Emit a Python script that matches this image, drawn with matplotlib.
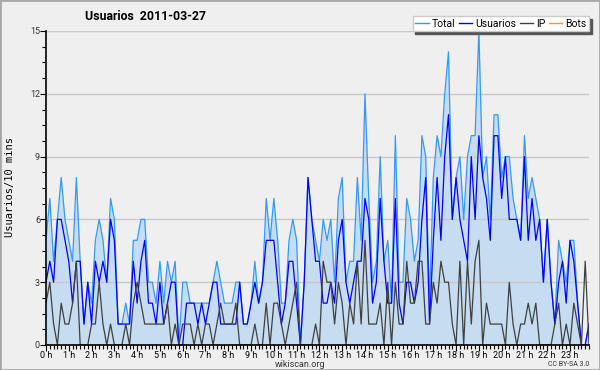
import matplotlib
matplotlib.use('Agg')
import matplotlib.pyplot as plt
import numpy as np
from matplotlib.ticker import MultipleLocator
from matplotlib.patches import Rectangle
from matplotlib.lines import Line2D

# values every 10 minutes, one row per hour
total = [
    5, 7, 4, 6, 8, 6,
    5, 4, 8, 4, 1, 3,
    2, 5, 6, 5, 3, 7,
    6, 1, 1, 2, 1, 5,
    5, 6, 6, 3, 3, 2,
    4, 2, 4, 3, 4, 0,
    3, 3, 2, 2, 2, 2,
    2, 2, 3, 4, 3, 2,
    2, 2, 3, 3, 1, 1,
    2, 4, 2, 3, 7, 5,
    7, 5, 2, 2, 5, 6,
    5, 0, 3, 8, 6, 5,
    4, 6, 5, 6, 3, 7,
    8, 3, 4, 4, 8, 5,
    12, 7, 3, 4, 9, 4,
    5, 2, 10, 3, 3, 7,
    6, 4, 5, 10, 9, 2,
    8, 10, 9, 12, 14, 6,
    8, 9, 6, 9, 10, 10,
    15, 8, 9, 6, 11, 11,
    8, 9, 9, 7, 6, 5,
    10, 7, 8, 7, 6, 3,
    6, 3, 1, 5, 4, 3,
    5, 5, 2, 0, 0, 1,
]
usuarios = [
    3, 4, 3, 6, 6, 5,
    4, 2, 4, 4, 1, 3,
    1, 4, 3, 4, 3, 6,
    5, 1, 1, 1, 1, 4,
    2, 4, 5, 2, 2, 1,
    3, 1, 2, 3, 3, 0,
    0, 2, 2, 2, 1, 2,
    1, 2, 3, 3, 1, 1,
    1, 1, 1, 3, 1, 1,
    2, 3, 2, 3, 5, 5,
    5, 3, 1, 2, 4, 4,
    2, 0, 3, 8, 6, 4,
    4, 2, 2, 3, 2, 5,
    6, 3, 2, 3, 4, 4,
    7, 6, 2, 3, 7, 4,
    2, 2, 7, 2, 1, 3,
    3, 2, 3, 6, 8, 1,
    5, 8, 5, 9, 11, 6,
    8, 6, 5, 4, 9, 6,
    10, 8, 7, 5, 10, 10,
    7, 9, 6, 6, 6, 5,
    9, 5, 7, 5, 6, 3,
    6, 3, 1, 3, 4, 2,
    5, 4, 2, 0, 0, 1,
]
ip = [
    2, 3, 1, 0, 2, 1,
    1, 2, 4, 0, 0, 0,
    1, 1, 3, 1, 0, 1,
    0, 0, 0, 1, 0, 2,
    3, 2, 1, 1, 1, 1,
    1, 1, 2, 0, 1, 0,
    1, 1, 1, 0, 1, 0,
    1, 1, 0, 1, 2, 1,
    1, 1, 2, 0, 0, 0,
    0, 1, 0, 0, 2, 0,
    2, 2, 1, 0, 1, 2,
    3, 0, 0, 0, 0, 1,
    0, 4, 3, 3, 1, 3,
    2, 0, 2, 1, 4, 1,
    5, 1, 1, 1, 2, 0,
    3, 0, 3, 1, 1, 4,
    2, 2, 4, 4, 1, 1,
    3, 2, 4, 3, 3, 1,
    0, 4, 0, 4, 1, 4,
    5, 0, 2, 1, 1, 1,
    1, 0, 3, 1, 0, 1,
    1, 2, 1, 2, 0, 0,
    0, 0, 1, 2, 0, 1,
    0, 2, 1, 0, 4, 0,
]
hour_labels = [f"{h} h" for h in range(24)]
series_names = ['Total', 'Usuarios', 'IP', 'Bots']
series_colors = ['#3399ff', '#0000ff', '#404040', '#ff9900']

plt.rcParams['font.family'] = ['Roboto', 'DejaVu Sans']

bg = '#efefef'
fig = plt.figure(figsize=(6, 3.7), dpi=100, facecolor=bg)
ax = fig.add_axes([46/600, 1 - 345/370, (589 - 46)/600, (345 - 31)/370])
ax.set_facecolor(bg)

x = np.arange(len(total))
ax.fill_between(x, total, 0, color='#c6dcf0', lw=0, zorder=1)
for y in [3, 6, 9, 12, 15]:
    ax.axhline(y, color='#c8c8c8', lw=1, zorder=2)

ax.plot(x, total, color=series_colors[0], lw=0.9, zorder=3)
ax.plot(x, usuarios, color=series_colors[1], lw=0.9, zorder=4)
ax.plot(x, ip, color=series_colors[2], lw=0.9, zorder=5)

ax.set_xlim(0, len(total) - 1)
ax.set_ylim(0, 15)
ax.set_yticks([0, 3, 6, 9, 12, 15])
ax.yaxis.set_minor_locator(MultipleLocator(0.75))
ax.set_xticks(range(0, 144, 6))
ax.set_xticklabels(hour_labels)
ax.xaxis.set_minor_locator(MultipleLocator(1))

for s in ['top', 'right']:
    ax.spines[s].set_visible(False)
for s in ['left', 'bottom']:
    ax.spines[s].set_color('black')
    ax.spines[s].set_linewidth(1.2)
    ax.spines[s].set_zorder(6)
ax.tick_params(which='major', direction='out', length=4, width=0.8, labelsize=6.5, pad=0.3,
               colors='black')
ax.tick_params(which='minor', direction='out', length=3, width=0.8)
ax.tick_params(axis='y', labelcolor='#333333')

fig.text(85/600, 1 - 17/370, 'Usuarios  2011-03-27', fontsize=8.8, fontweight='bold',
         ha='left', va='center')
fig.text(10/600, 1 - 187/370, 'Usuarios/10 mins', fontsize=7.5, rotation=90,
         ha='center', va='center', family=['DejaVu Sans Mono'])
fig.text(0.5, 1 - 364.5/370, 'wikiscan.org', fontsize=6.5, ha='center', va='center',
         color='#333333')
fig.text(589/600, 1 - 364/370, 'CC BY-SA 3.0', fontsize=5, ha='right', va='center',
         color='#333333')

handles = [Line2D([], [], color=c, lw=1) for c in series_colors]
fig.legend(handles, series_names, ncol=4, loc='upper right', bbox_to_anchor=(0.982, 0.957),
           fontsize=7.5, frameon=True, fancybox=False, framealpha=1, edgecolor='#cccccc',
           shadow={'color': '#555555', 'alpha': 1}, handlelength=1.3, handletextpad=0.3,
           columnspacing=0.3, borderpad=0.25, borderaxespad=0)

fig.patches.append(Rectangle((0, 0), 1, 1, transform=fig.transFigure, fill=False,
                             edgecolor='#a8a8a8', lw=2))

fig.savefig('out.png', dpi=100, facecolor=bg)
